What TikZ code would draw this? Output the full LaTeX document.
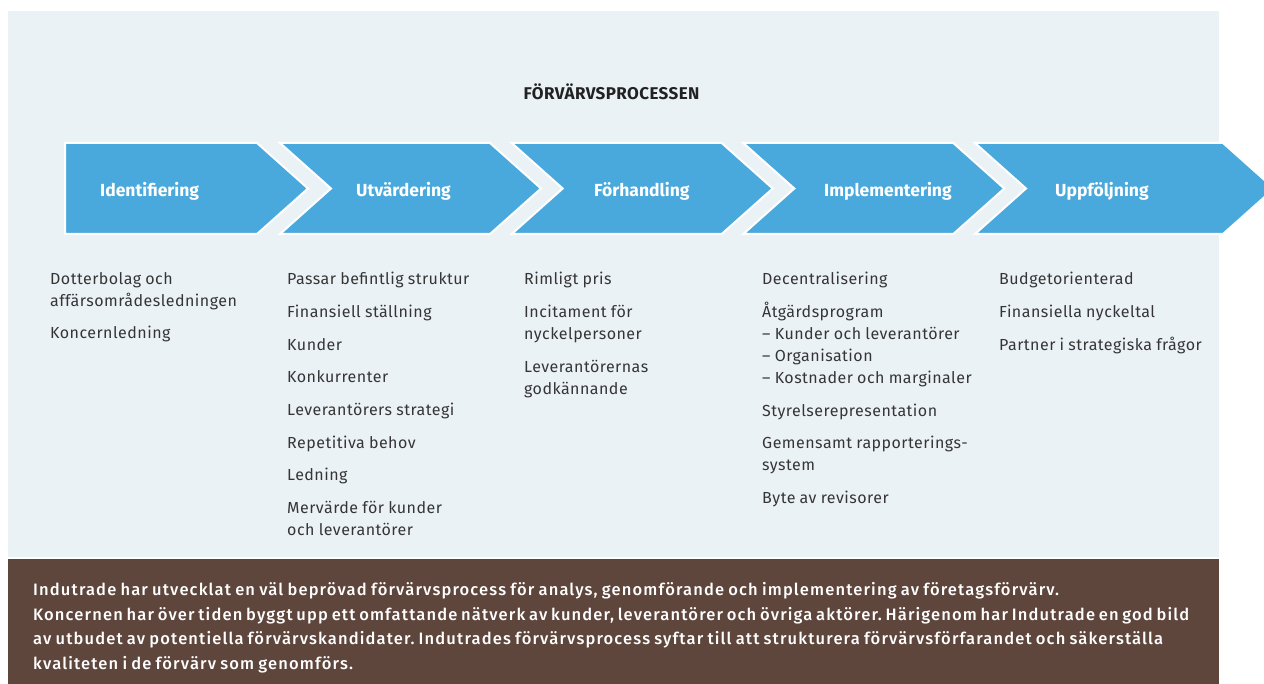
\documentclass[tikz,border=0pt]{standalone}
\usepackage{fontspec}
\setmainfont{Fira Sans}
\newfontfamily\listfont{Fira Sans}[LetterSpace=3,WordSpace=0.9]
\newfontfamily\notefont{Fira Sans Medium}[LetterSpace=7,WordSpace=0.8]
\newfontfamily\titlefont{Fira Sans}[LetterSpace=2.5]
\definecolor{panelbg}{HTML}{EBF2F6}
\definecolor{stepblue}{HTML}{4AA9DC}
\definecolor{notebrown}{HTML}{5E463C}
\definecolor{bodytext}{HTML}{353535}
\definecolor{titletext}{HTML}{222222}
\begin{document}
\frenchspacing
\begin{tikzpicture}[x=1pt,y=-1pt,
  chevron/.style={fill=stepblue,draw=white,line width=2pt,line join=miter},
  steplabel/.style={anchor=base west,inner sep=0pt,text=white,
    font=\bfseries\fontsize{17.5}{20}\selectfont},
  itemlist/.style={anchor=north west,inner sep=0pt,align=left,text=bodytext,
    font=\listfont\fontsize{16}{22}\selectfont},
  notetext/.style={anchor=north west,inner sep=0pt,align=left,text=white,
    font=\notefont\fontsize{16.5}{24.5}\selectfont}]
\useasboundingbox (0,0) rectangle (1264,684);
\clip (0,0) rectangle (1264,684);
% page, panel and note band
\fill[white] (0,0) rectangle (1264,684);
\fill[panelbg] (8,11) rectangle (1219,556.5);
\fill[notebrown] (8,559) rectangle (1219,684);

% title
\node[anchor=base,inner sep=0pt,text=titletext,font=\titlefont\bfseries\fontsize{17}{20}\selectfont]
  (title) at (611.5,100) {FÖRVÄRVSPROCESSEN};

% process chevrons
\path[chevron] (65,143) -- (257,143) -- (308,188.5) -- (257,234) -- (65,234) -- cycle;
\foreach \sx in {280,511.7,743.3} {
  \path[chevron,shift={(\sx,0)}] (0,143) -- (210,143) -- (261,188.5) -- (210,234)
    -- (0,234) -- (51,188.5) -- cycle;
}
\path[chevron] (975,143) -- (1223,143) -- (1274,188.5) -- (1223,234) -- (975,234)
  -- (1026,188.5) -- cycle;

% step labels
\node[steplabel] (s1) at (100,197) {Identifiering};
\node[steplabel] (s2) at (356,197) {Utvärdering};
\node[steplabel] (s3) at (594,197) {Förhandling};
\node[steplabel] (s4) at (824,197) {Implementering};
\node[steplabel] (s5) at (1055,197) {Uppföljning};

% activity lists under each step
\node[itemlist] (l1) at (50,272) {Dotterbolag och\\affärsområdesledningen\\[10.7pt]Koncernledning};
\node[itemlist] (l2) at (287,272) {Passar befintlig struktur\\[10.7pt]Finansiell ställning\\[10.7pt]Kunder\\[10.7pt]Konkurrenter\\[10.7pt]Leverantörers strategi\\[10.7pt]Repetitiva behov\\[10.7pt]Ledning\\[10.7pt]Mervärde för kunder\\och leverantörer};
\node[itemlist] (l3) at (524,272) {Rimligt pris\\[10.7pt]Incitament för\\nyckelpersoner\\[10.7pt]Leverantörernas\\godkännande};
\node[itemlist] (l4) at (762,272) {Decentralisering\\[10.7pt]Åtgärdsprogram\\– Kunder och leverantörer\\– Organisation\\– Kostnader och marginaler\\[10.7pt]Styrelserepresentation\\[10.7pt]Gemensamt rapporterings-\\system\\[10.7pt]Byte av revisorer};
\node[itemlist] (l5) at (999,272) {Budgetorienterad\\[10.7pt]Finansiella nyckeltal\\[10.7pt]Partner i strategiska frågor};

% summary in the note band (first three lines set to fixed measures)
\node[notetext] (note) at (33,582.5) {%
  \makebox[1026pt][s]{Indutrade har utvecklat en väl beprövad förvärvsprocess för analys, genomförande och implementering av företagsförvärv.}\\
  \makebox[1156pt][s]{Koncernen har över tiden byggt upp ett omfattande nätverk av kunder, leverantörer och övriga aktörer. Härigenom har Indutrade en god bild}\\
  \makebox[1130pt][s]{av utbudet av potentiella förvärvskandidater. Indutrades förvärvsprocess syftar till att strukturera förvärvsförfarandet och säkerställa}\\
  kvaliteten i de förvärv som genomförs.};
\end{tikzpicture}
\end{document}
